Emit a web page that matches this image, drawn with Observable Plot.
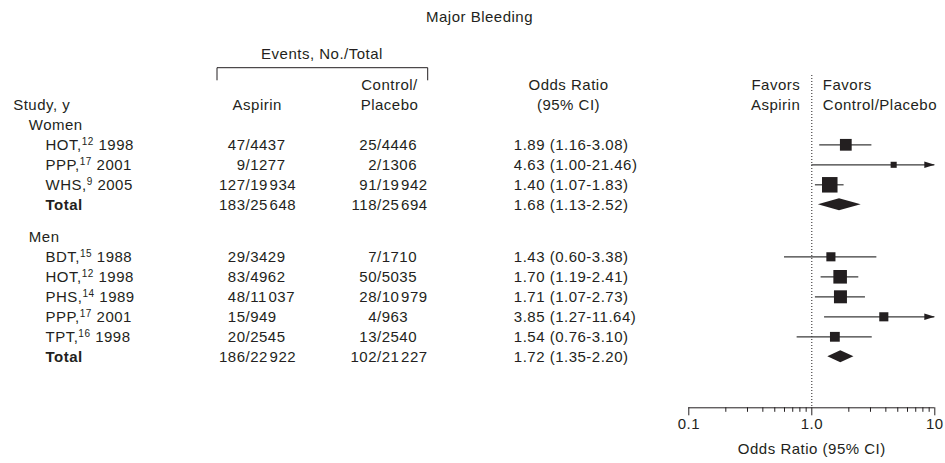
<!DOCTYPE html>
<html>
<head>
<meta charset="utf-8">
<script src="https://cdn.jsdelivr.net/npm/d3@7"></script>
<script src="https://cdn.jsdelivr.net/npm/@observablehq/plot@0.6"></script>
<style>
html, body { margin: 0; padding: 0; background: #fff; }
#chart svg text { letter-spacing: 0.5px; }
</style>
</head>
<body>
<div id="chart"></div>
<script>
// ---------------- data ----------------
const chartTitle = "Major Bleeding";
const groupNames = ["Women", "Men"];
const studyGroup = ["Women", "Women", "Women", "Men", "Men", "Men", "Men", "Men"];
const studyName = ["HOT", "PPP", "WHS", "BDT", "HOT", "PHS", "PPP", "TPT"];
const studyRef = [12, 17, 9, 15, 12, 14, 17, 16];
const studyYear = [1998, 2001, 2005, 1988, 1998, 1989, 2001, 1998];
const aspirinEvents = [47, 9, 127, 29, 83, 48, 15, 20];
const aspirinTotal = [4437, 1277, 19934, 3429, 4962, 11037, 949, 2545];
const controlEvents = [25, 2, 91, 7, 50, 28, 4, 13];
const controlTotal = [4446, 1306, 19942, 1710, 5035, 10979, 963, 2540];
const oddsRatio = [1.89, 4.63, 1.40, 1.43, 1.70, 1.71, 3.85, 1.54];
const ciLow = [1.16, 1.00, 1.07, 0.60, 1.19, 1.07, 1.27, 0.76];
const ciHigh = [3.08, 21.46, 1.83, 3.38, 2.41, 2.73, 11.64, 3.10];
const studyWeight = [13.5, 3.6, 23.5, 8.1, 18.0, 16.5, 8.1, 9.4];

const totalAspirinEvents = [183, 186];
const totalAspirinN = [25648, 22922];
const totalControlEvents = [118, 102];
const totalControlN = [25694, 21227];
const totalOR = [1.68, 1.72];
const totalLow = [1.13, 1.35];
const totalHigh = [2.52, 2.20];

const majorTicks = [0.1, 1, 10];
const majorTickLabels = ["0.1", "1.0", "10"];
const minorTicks = [0.2, 0.3, 0.4, 0.5, 0.6, 0.7, 0.8, 0.9, 2, 3, 4, 5, 6, 7, 8, 9];
const axisLabel = "Odds Ratio (95% CI)";

// ---------------- layout (pixels / rows) ----------------
const W = 945, H = 463;
const ink = "#231f20";
const rowTopPx = 124.3, rowPx = 20;
const groupRowStart = [0, 5.6];
const titleRow = -5.36, eventsRow = -3.53, head1Row = -2, head2Row = -1;
const bracketTop = -2.83, bracketBottom = -2.2;
const axisRow = 14.15;
const col = {study: 12.7, group: 28.3, name: 45, aspSlash: 245, ctlSlash: 376.5,
             orText: 513.3, aspHead: 256.7, ctlHead: 389, orHead: 568, events: 321.5, title: 479,
             bracketL: 217, bracketR: 427.7};
const diamondHalf = 0.3;

const fmtN = n => n >= 10000 ? String(n).replace(/(\d+)(\d{3})$/, "$1\u200A$2") : String(n);
const fmtCI = (o, l, h) => `${o.toFixed(2)} (${l.toFixed(2)}-${h.toFixed(2)})`;

// ---------------- tables ----------------
const studies = studyName.map((name, i) => {
  const g = groupNames.indexOf(studyGroup[i]);
  const k = studyGroup.slice(0, i).filter(s => s === studyGroup[i]).length;
  return {
    label: `${name},^${studyRef[i]}^ ${studyYear[i]}`,
    row: groupRowStart[g] + 1 + k,
    aN: String(aspirinEvents[i]), aD: "/" + fmtN(aspirinTotal[i]),
    cN: String(controlEvents[i]), cD: "/" + fmtN(controlTotal[i]),
    or: oddsRatio[i], lo: ciLow[i], hi: ciHigh[i], w: studyWeight[i],
    ciText: fmtCI(oddsRatio[i], ciLow[i], ciHigh[i])
  };
});
const groupHeaders = groupNames.map((g, j) => ({label: g, row: groupRowStart[j]}));
const totals = groupNames.map((g, j) => {
  const n = studyGroup.filter(s => s === g).length;
  return {
    label: "Total", row: groupRowStart[j] + 1 + n,
    aN: String(totalAspirinEvents[j]), aD: "/" + fmtN(totalAspirinN[j]),
    cN: String(totalControlEvents[j]), cD: "/" + fmtN(totalControlN[j]),
    or: totalOR[j], lo: totalLow[j], hi: totalHigh[j],
    ciText: fmtCI(totalOR[j], totalLow[j], totalHigh[j])
  };
});
const tableRows = [...studies, ...totals];
const diamondPts = totals.flatMap((t, j) => [
  {g: j, x: t.lo, y1: t.row, y2: t.row},
  {g: j, x: t.or, y1: t.row - diamondHalf, y2: t.row + diamondHalf},
  {g: j, x: t.hi, y1: t.row, y2: t.row}
]);
const xMax = majorTicks[majorTicks.length - 1];
const arrowRows = studies.filter(d => d.hi > xMax);

const arrowHead = {
  draw(ctx) { ctx.moveTo(0, 0); ctx.lineTo(-10.5, -3.3); ctx.lineTo(-10.5, 3.3); ctx.closePath(); }
};

const T = (data, px, o) => Plot.text(data, {frameAnchor: "left", fill: ink, fontSize: 15, lineAnchor: "middle", ...o, dx: px});

const headers = [
  {t: "Study, y", row: head2Row, px: col.study, a: "start"},
  {t: "Aspirin", row: head2Row, px: col.aspHead, a: "middle"},
  {t: "Control/", row: head1Row, px: col.ctlHead, a: "middle"},
  {t: "Placebo", row: head2Row, px: col.ctlHead, a: "middle"},
  {t: "Odds Ratio", row: head1Row, px: col.orHead, a: "middle"},
  {t: "(95% CI)", row: head2Row, px: col.orHead, a: "middle"},
  {t: "Events, No./Total", row: eventsRow, px: col.events, a: "middle"},
  {t: chartTitle, row: titleRow, px: col.title, a: "middle"}
];

const svg = Plot.plot({
  width: W, height: H,
  marginLeft: 0, marginRight: 0, marginTop: 75, marginBottom: H - 407.3,
  x: {type: "log", domain: [majorTicks[0], xMax], range: [688.3, 934.3], axis: null},
  y: {domain: [-rowTopPx / rowPx, (H - rowTopPx) / rowPx], range: [0, H], axis: null},
  r: {type: "sqrt", domain: [0, d3.max(studyWeight)], range: [0, 8.75]},
  style: {fontFamily: "'Liberation Sans', Arial, Helvetica, sans-serif", fontSize: "15px", color: ink, background: "#fff"},
  marks: [
    // headers
    ...headers.map(h => T([h], h.px, {y: d => d.row, text: d => d.t, textAnchor: h.a})),
    Plot.rect([0], {y1: bracketTop, y2: bracketBottom, insetLeft: col.bracketL, insetRight: W - col.bracketR,
      fill: "none", stroke: ink, strokeWidth: 1,
      strokeDasharray: `${(col.bracketR - col.bracketL) + (bracketBottom - bracketTop) * rowPx} ${col.bracketR - col.bracketL} 40`}),
    Plot.text(["Favors", "Aspirin"], {x: 1, y: (d, i) => head1Row + i, text: d => d, dx: -11.5, textAnchor: "end", fill: ink, fontSize: 15}),
    Plot.text(["Favors", "Control/Placebo"], {x: 1, y: (d, i) => head1Row + i, text: d => d, dx: 11, textAnchor: "start", fill: ink, fontSize: 15}),
    // table body
    T(groupHeaders, col.group, {y: "row", text: "label", textAnchor: "start"}),
    T(studies, col.name, {y: "row", text: "label", textAnchor: "start"}),
    T(totals, col.name, {y: "row", text: "label", textAnchor: "start", fontWeight: "bold"}),
    T(tableRows, col.aspSlash, {y: "row", text: "aN", textAnchor: "end"}),
    T(tableRows, col.aspSlash, {y: "row", text: "aD", textAnchor: "start"}),
    T(tableRows, col.ctlSlash, {y: "row", text: "cN", textAnchor: "end"}),
    T(tableRows, col.ctlSlash, {y: "row", text: "cD", textAnchor: "start"}),
    T(tableRows, col.orText, {y: "row", text: "ciText", textAnchor: "start"}),
    // forest
    Plot.ruleX([1], {stroke: ink, strokeWidth: 1, strokeDasharray: "1,2"}),
    Plot.ruleY(studies, {y: "row", x1: "lo", x2: d => Math.min(d.hi, xMax), stroke: "#3a3a3a", strokeWidth: 1.2}),
    Plot.dot(arrowRows, {x: () => xMax, y: "row", symbol: arrowHead, fill: ink, stroke: "none"}),
    Plot.dot(studies, {x: "or", y: "row", r: "w", symbol: "square", fill: ink, stroke: "none"}),
    Plot.areaY(diamondPts, {x: "x", y1: "y1", y2: "y2", z: "g", fill: ink, curve: "linear"}),
    // axis
    Plot.ruleY([axisRow], {x1: majorTicks[0], x2: xMax, stroke: ink, strokeWidth: 1}),
    Plot.axisX({ticks: majorTicks, tickSize: 8, tickPadding: 3, tickFormat: (d, i) => majorTickLabels[majorTicks.indexOf(d)], fontSize: 15, stroke: ink, fill: ink}),
    Plot.axisX({ticks: minorTicks, tickSize: 4.5, tickFormat: () => "", stroke: ink}),
    Plot.text([axisLabel], {x: 1, frameAnchor: "bottom", dy: 46, text: d => d, textAnchor: "middle", fill: ink, fontSize: 15})
  ]
});

// superscript reference numbers
d3.select(svg).selectAll("text").each(function () {
  const t = this.textContent;
  if (!t.includes("^")) return;
  const parts = t.split("^");
  const el = d3.select(this);
  el.text(null);
  el.append("tspan").text(parts[0]);
  el.append("tspan").attr("dy", -5).attr("font-size", "10px").text(parts[1]);
  el.append("tspan").attr("dy", 5).text(parts[2]);
});

document.getElementById("chart").append(svg);
</script>
</body>
</html>
